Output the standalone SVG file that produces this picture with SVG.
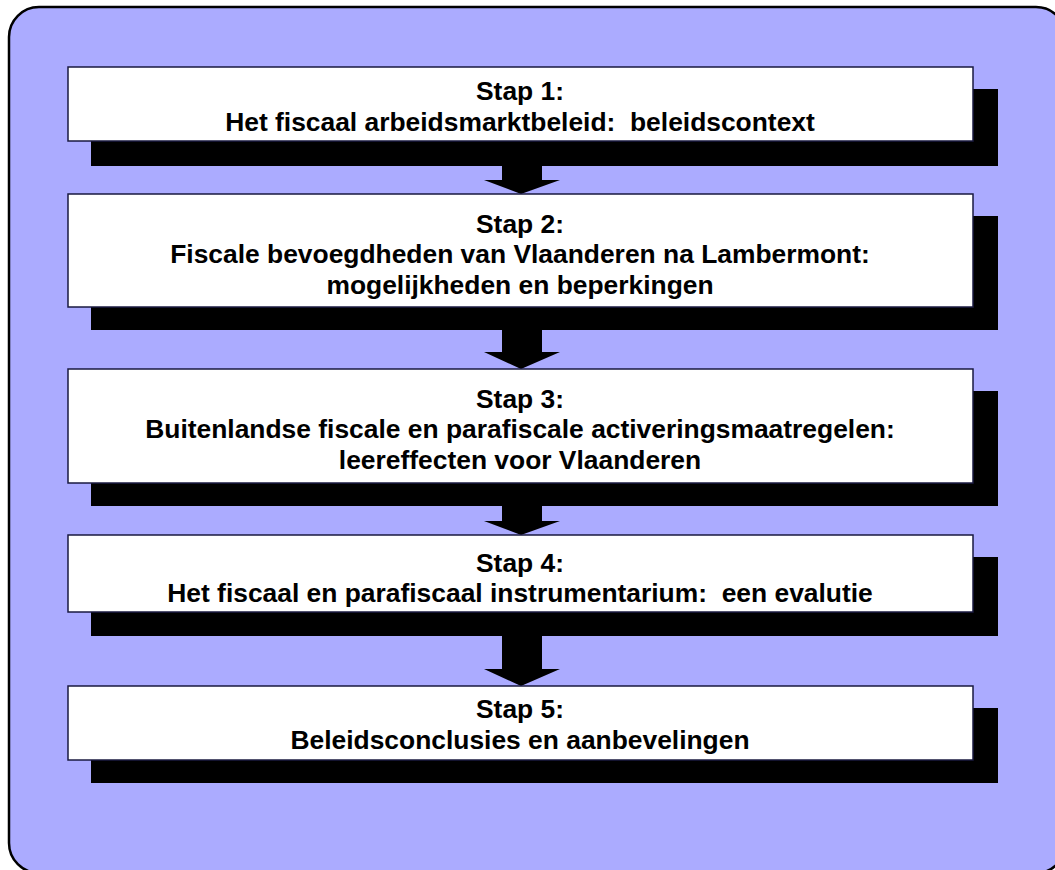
<svg xmlns="http://www.w3.org/2000/svg" width="1055" height="870" viewBox="0 0 1055 870">
<style>
.frame{fill:#ABABFF;stroke:#000;stroke-width:2.5}
.shadow{fill:#000}
.box{fill:#fff;stroke:#1a1a40;stroke-width:1.5}
.arrow{fill:#000}
text{font-family:"Liberation Sans",Arial,sans-serif;font-weight:bold;font-size:26.4px;fill:#000;text-anchor:middle;white-space:pre}
</style>
<rect fill="#fff" width="1055" height="870"/>
<rect class="frame" x="9" y="7" width="1057" height="866" rx="30" ry="30"/>
<g id="connectors">
<path class="arrow" d="M502,160 L542,160 L542,180 L560,180 L521,194 L484,180 L502,180 Z"/>
<path class="arrow" d="M502,325 L542,325 L542,352 L560,352 L521,369 L484,352 L502,352 Z"/>
<path class="arrow" d="M502,500 L542,500 L542,521 L560,521 L521,535 L484,521 L502,521 Z"/>
<path class="arrow" d="M502,630 L542,630 L542,669 L560,669 L521,686 L484,669 L502,669 Z"/>
</g>
<g id="step1">
<rect class="shadow" x="91" y="89" width="907" height="77"/>
<rect class="box" x="68" y="67" width="905" height="74"/>
<text x="520" y="100">Stap 1:</text>
<text x="520" y="131" xml:space="preserve">Het fiscaal arbeidsmarktbeleid:  beleidscontext</text>
</g>
<g id="step2">
<rect class="shadow" x="91" y="216" width="907" height="114"/>
<rect class="box" x="68" y="194" width="905" height="113"/>
<text x="520" y="233">Stap 2:</text>
<text x="520" y="263">Fiscale bevoegdheden van Vlaanderen na Lambermont:</text>
<text x="520" y="294">mogelijkheden en beperkingen</text>
</g>
<g id="step3">
<rect class="shadow" x="91" y="391" width="907" height="115"/>
<rect class="box" x="68" y="369" width="905" height="114"/>
<text x="520" y="408">Stap 3:</text>
<text x="520" y="438">Buitenlandse fiscale en parafiscale activeringsmaatregelen:</text>
<text x="520" y="469">leereffecten voor Vlaanderen</text>
</g>
<g id="step4">
<rect class="shadow" x="91" y="557" width="907" height="79"/>
<rect class="box" x="68" y="535" width="905" height="77"/>
<text x="520" y="572">Stap 4:</text>
<text x="520" y="602" xml:space="preserve">Het fiscaal en parafiscaal instrumentarium:  een evalutie</text>
</g>
<g id="step5">
<rect class="shadow" x="91" y="708" width="907" height="75"/>
<rect class="box" x="68" y="686" width="905" height="74"/>
<text x="520" y="718">Stap 5:</text>
<text x="520" y="749">Beleidsconclusies en aanbevelingen</text>
</g>
</svg>
